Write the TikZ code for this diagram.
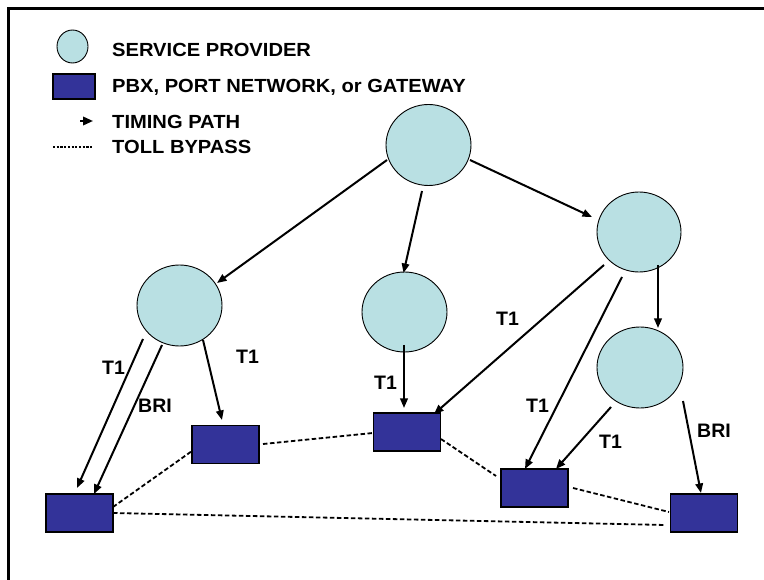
\documentclass[tikz,border=0pt]{standalone}
\usepackage{fontspec}
\setmainfont{Liberation Sans}
\usetikzlibrary{arrows.meta,shapes.geometric}
\definecolor{spfill}{RGB}{185,224,227}
\definecolor{pbxfill}{RGB}{51,51,153}

\begin{document}
\begin{tikzpicture}[x=1pt,y=-1pt,
  provider/.style={ellipse, draw=black, line width=0.9pt, fill=spfill, inner sep=0pt,
                   minimum width=85pt, minimum height=81pt},
  pbx/.style={rectangle, draw=black, line width=1.3pt, fill=pbxfill, inner sep=0pt,
              minimum width=67pt, minimum height=38pt},
  timing/.style={line width=2pt, -{Triangle[length=9.5pt,width=7.5pt]}},
  bypass/.style={line width=1.8pt, dash pattern=on 4.5pt off 2.5pt},
  lbl/.style={anchor=base west, inner sep=0pt, font=\fontsize{19.5}{19.5}\selectfont\bfseries},
  legtext/.style={anchor=base west, inner sep=0pt, font=\fontsize{19}{19}\selectfont\bfseries},
]
\useasboundingbox (0,0) rectangle (764,580);

% frame (top and left edges)
\draw[line width=3pt] (8.5,580) -- (8.5,8.5) -- (764,8.5);

% legend
\node[provider, minimum width=31pt, minimum height=33pt] (lgsp) at (72.5,46.5) {};
\node[pbx, minimum width=42pt, minimum height=25pt] (lgpbx) at (74,86.5) {};
\coordinate (lgta) at (80,121);
\coordinate (lgtb) at (93,121);
\draw[timing, -{Triangle[length=10pt,width=8.5pt]}] (lgta) -- (lgtb);
\coordinate (lgba) at (53,147);
\coordinate (lgbb) at (93,147);
\draw[line width=1.1pt, dash pattern=on 2.2pt off 1.5pt] (lgba) -- (lgbb);
\node[legtext] (lgt1) at (112,56.5) {\scalebox{1.06}[1]{SERVICE PROVIDER}};
\node[legtext] (lgt2) at (112,93) {\scalebox{1.06}[1]{PBX, PORT NETWORK, or GATEWAY}};
\node[legtext] (lgt3) at (112,129) {\scalebox{1.06}[1]{TIMING PATH}};
\node[legtext] (lgt4) at (112,154) {\scalebox{1.06}[1]{TOLL BYPASS}};

% service providers
\node[provider] (A) at (428.5,145) {};
\node[provider, minimum width=84pt, minimum height=80pt] (B) at (639,232) {};
\node[provider] (C) at (179.5,305.5) {};
\node[provider, minimum height=80pt] (D) at (404.5,312) {};
\node[provider, minimum width=86pt, minimum height=81pt] (E) at (640,367.5) {};

% PBX / port network / gateway boxes
\node[pbx] (R1) at (79.5,513) {};
\node[pbx] (R2) at (225.5,444.5) {};
\node[pbx] (R3) at (407,432) {};
\node[pbx] (R4) at (534.5,488) {};
\node[pbx] (R5) at (704,513) {};

% toll bypass links
\draw[bypass] ([shift={(33.5,-6)}]R1.center) -- ([shift={(-33.5,6.5)}]R2.center);
\draw[bypass] ([shift={(33.5,0)}]R1.center) -- ([shift={(-39,12)}]R5.center);
\draw[bypass] ([shift={(37.5,-0.5)}]R2.center) -- ([shift={(-34,1)}]R3.center);
\draw[bypass] ([shift={(34,7)}]R3.center) -- ([shift={(-38.5,-12)}]R4.center);
\draw[bypass] ([shift={(38.5,0)}]R4.center) -- ([shift={(-35,-1)}]R5.center);

% timing paths between providers
\draw[timing] ([shift={(-41.5,15)}]A.center) -- ([shift={(37.5,-22.5)}]C.center);
\draw[timing] ([shift={(-6.5,46)}]A.center) -- ([shift={(-1,-39)}]D.center);
\draw[timing] ([shift={(41.5,15)}]A.center) -- ([shift={(-47,-15)}]B.center);
\draw[timing] ([shift={(19,33)}]B.center) -- ([shift={(18,-39.5)}]E.center);

% timing paths to the boxes
\draw[timing] ([shift={(-36.5,33.5)}]C.center) -- ([shift={(-2.5,-25)}]R1.center);
\draw[timing] ([shift={(-17.5,39.5)}]C.center) -- ([shift={(14.5,-19)}]R1.center);
\draw[timing] ([shift={(23.5,34.5)}]C.center) -- ([shift={(-3.5,-24.5)}]R2.center);
\draw[timing] ([shift={(-0.5,33)}]D.center) -- ([shift={(-3,-24)}]R3.center);
\draw[timing] ([shift={(-35,33)}]B.center) -- ([shift={(27,-18)}]R3.center);
\draw[timing] ([shift={(-17,45)}]B.center) -- ([shift={(-9.5,-19)}]R4.center);
\draw[timing] ([shift={(-29,39.5)}]E.center) -- ([shift={(21.5,-19)}]R4.center);
\draw[timing] ([shift={(43,33.5)}]E.center) -- ([shift={(-3,-20)}]R5.center);

% link labels
\node[lbl] (l1) at (102,374) {T1};
\node[lbl] (l2) at (138,413) {BRI};
\node[lbl] (l3) at (236,364) {T1};
\node[lbl] (l4) at (374,389) {T1};
\node[lbl] (l5) at (496,326) {T1};
\node[lbl] (l6) at (526,413) {T1};
\node[lbl] (l7) at (599,449) {T1};
\node[lbl] (l8) at (697,437) {BRI};
\end{tikzpicture}
\end{document}
